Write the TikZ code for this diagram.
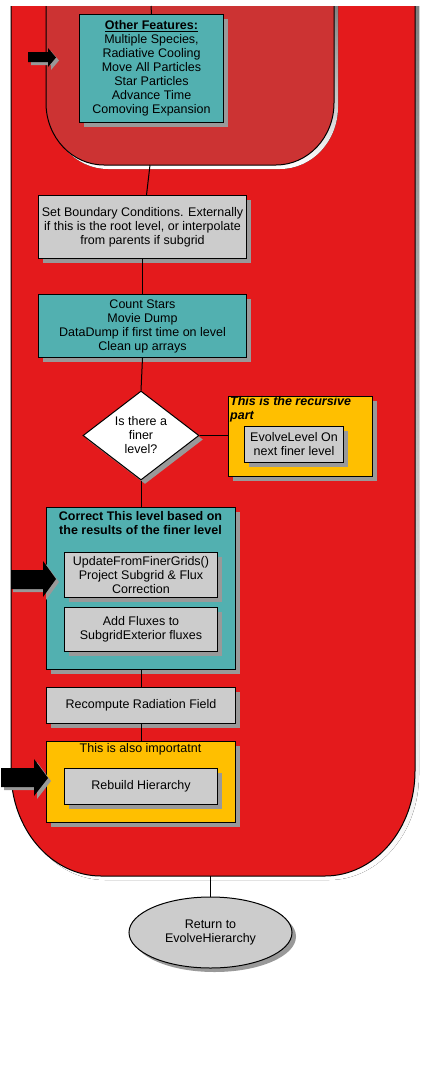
\documentclass[tikz,border=0pt]{standalone}
\usepackage{fontspec}
\setmainfont{Liberation Sans}
\usetikzlibrary{shapes.geometric,shadows}
\definecolor{bigred}{RGB}{228,26,28}
\definecolor{innerred}{RGB}{204,51,51}
\definecolor{tealc}{RGB}{82,176,176}
\definecolor{lgray}{RGB}{204,204,204}
\definecolor{amber}{RGB}{255,191,0}
\definecolor{shade}{RGB}{153,153,153}
\begin{document}
\begin{tikzpicture}[x=1pt,y=1pt,
  font=\fontsize{12.5}{14}\selectfont,
  shd/.style={drop shadow={shadow xshift=4pt,shadow yshift=-4pt,fill=shade,opacity=1}},
  box/.style={draw=black,line width=1pt,anchor=north west,inner sep=0pt,align=center,shd},
  tealbox/.style={box,fill=tealc},
  graybox/.style={box,fill=lgray},
  ambbox/.style={box,fill=amber},
  conn/.style={draw=black,line width=1pt},
  blockarrow/.style={fill=black},
  arrowshade/.style={fill=shade},
  lbl/.style={inner sep=0pt,align=center}
]
\useasboundingbox (0,0) rectangle (421,-1068);
\fill[white] (0,0) rectangle (421,-1068);

% big red region (shadow, fill, outline)
\fill[shade] (15,-6) -- (15,-775) arc[start angle=180,end angle=270,x radius=90,y radius=105]
  -- (329,-880) arc[start angle=270,end angle=360,x radius=90,y radius=105] -- (419,-6) -- cycle;
\fill[bigred] (11,-6) -- (11,-771) arc[start angle=180,end angle=270,x radius=90,y radius=105]
  -- (325,-876) arc[start angle=270,end angle=360,x radius=90,y radius=105] -- (415,-6) -- cycle;
\draw[line width=1pt] (11,-6) -- (11,-771) arc[start angle=180,end angle=270,x radius=90,y radius=105]
  -- (325,-876) arc[start angle=270,end angle=360,x radius=90,y radius=105] -- (415,-6);

% inner darker region
\fill[shade] (50,-6) -- (50,-107) arc[start angle=180,end angle=270,x radius=58,y radius=62]
  -- (280,-169) arc[start angle=270,end angle=360,x radius=58,y radius=62] -- (338,-6) -- cycle;
\fill[innerred] (46,-6) -- (46,-103) arc[start angle=180,end angle=270,x radius=58,y radius=62]
  -- (276,-165) arc[start angle=270,end angle=360,x radius=58,y radius=62] -- (334,-6) -- cycle;
\draw[line width=1pt] (46,-6) -- (46,-103) arc[start angle=180,end angle=270,x radius=58,y radius=62]
  -- (276,-165) arc[start angle=270,end angle=360,x radius=58,y radius=62] -- (334,-6);

\coordinate (topin) at (151,-6);
\coordinate (innerbot) at (150,-165);
\coordinate (redbot) at (210.5,-876);

% nodes
\node[tealbox,minimum width=144pt,minimum height=108pt] (ofeat) at (79,-14)
  {\underline{\textbf{Other Features:}}\\Multiple Species,\\Radiative Cooling\\Move All Particles\\Star Particles\\Advance Time\\Comoving Expansion};
\node[graybox,minimum width=208pt,minimum height=63pt] (setb) at (38,-195)
  {Set Boundary Conditions. Externally\\if this is the root level, or interpolate\\from parents if subgrid};
\node[tealbox,minimum width=208pt,minimum height=63pt] (cstar) at (38,-294)
  {Count Stars\\Movie Dump\\DataDump if first time on level\\Clean up arrays};
\node[draw=black,line width=1pt,fill=white,shape=diamond,aspect=1.3,inner sep=0pt,
  minimum width=116pt,minimum height=89pt,align=center,shd] (dia) at (141,-435.5)
  {Is there a\\finer\\level?};
\node[ambbox,minimum width=144pt,minimum height=80pt] (yel1) at (228,-396) {};
\node[lbl,anchor=north west,align=left,font=\fontsize{12.5}{14}\selectfont\bfseries\itshape] (yel1t) at (230,-396)
  {This is the recursive\\part};
\node[graybox,minimum width=99pt,minimum height=36pt] (evl) at (244,-426)
  {EvolveLevel On\\next finer level};
\node[tealbox,minimum width=189pt,minimum height=162pt] (corr) at (46,-507) {};
\node[lbl,font=\fontsize{12.5}{14}\selectfont\bfseries] (corrt) at (140.5,-523)
  {Correct This level based on\\the results of the finer level};
\node[graybox,minimum width=153pt,minimum height=45pt] (upd) at (64,-552)
  {UpdateFromFinerGrids()\\Project Subgrid \& Flux\\Correction};
\node[graybox,minimum width=153pt,minimum height=44pt] (addf) at (64,-607)
  {Add Fluxes to\\SubgridExterior fluxes};
\node[graybox,minimum width=189pt,minimum height=36pt] (recomp) at (46,-687)
  {Recompute Radiation Field};
\node[ambbox,minimum width=189pt,minimum height=81pt] (yel2) at (46,-741) {};
\node[lbl] (yel2t) at (140.5,-749) {This is also importatnt};
\node[graybox,minimum width=153pt,minimum height=36pt] (rebuild) at (64,-768)
  {Rebuild Hierarchy};
\node[draw=black,line width=1pt,fill=lgray,shape=ellipse,inner sep=0pt,
  minimum width=163pt,minimum height=71pt,align=center,shd] (ret) at (210.5,-932.5)
  {Return to\\EvolveHierarchy};

% connectors
\draw[conn] (topin) -- (ofeat.north);
\draw[conn] (innerbot) -- ([xshift=4pt]setb.north);
\draw[conn] (setb.south) -- (cstar.north);
\draw[conn] (cstar.south) -- (dia.north);
\draw[conn] (dia.east) -- (dia.east -| yel1.west);
\draw[conn] (dia.south) -- (corr.north);
\draw[conn] (corr.south) -- (recomp.north);
\draw[conn] (recomp.south) -- (yel2.north);
\draw[conn] (redbot) -- (ret.north);

% block arrows
\fill[arrowshade] (31,-55) -- (51,-55) -- (51,-51) -- (59,-60.5) -- (51,-70) -- (51,-65) -- (31,-65) -- cycle;
\fill[blockarrow] (28,-52) -- (48,-52) -- (48,-48) -- (56,-57.5) -- (48,-67) -- (48,-62) -- (28,-62) -- cycle;

\fill[arrowshade] (13,-573) -- (46,-573) -- (46,-564) -- (59,-582) -- (46,-600) -- (46,-592) -- (13,-592) -- cycle;
\fill[blockarrow] (11,-570) -- (43,-570) -- (43,-561) -- (56,-579) -- (43,-597) -- (43,-589) -- (11,-589) -- cycle;

\fill[arrowshade] (4,-771) -- (37,-771) -- (37,-762) -- (51,-781) -- (37,-799) -- (37,-790) -- (4,-790) -- cycle;
\fill[blockarrow] (1,-768) -- (34,-768) -- (34,-759) -- (48,-778) -- (34,-796) -- (34,-787) -- (1,-787) -- cycle;
\end{tikzpicture}
\end{document}
